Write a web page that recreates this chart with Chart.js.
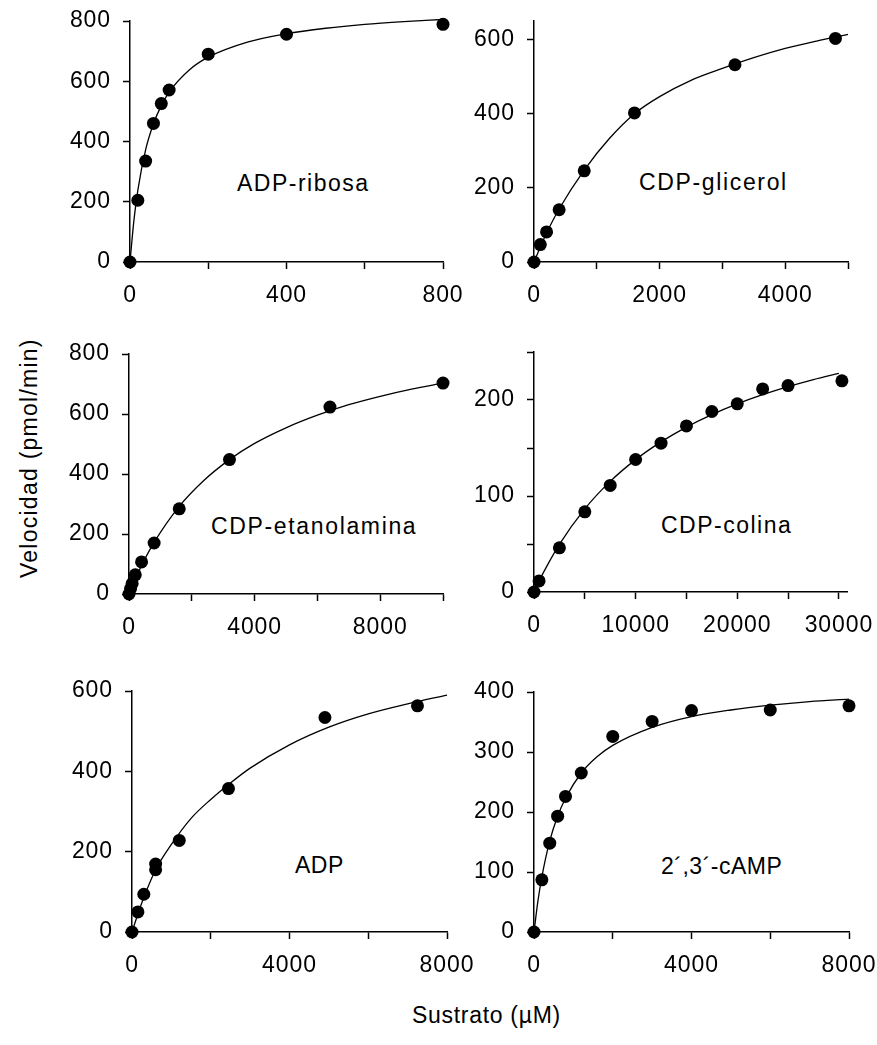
<!DOCTYPE html>
<html lang="es">
<head>
<meta charset="utf-8">
<title>Cinética de hidrólisis de sustratos</title>
<script src="https://cdn.jsdelivr.net/npm/chart.js@4.4.1/dist/chart.umd.min.js"></script>
<style>
  html, body { margin: 0; padding: 0; background: #fff; }
  body {
    width: 877px; height: 1045px; position: relative; overflow: hidden;
    font-family: 'Liberation Sans', Arial, Helvetica, sans-serif; color: #000;
  }
  canvas { position: absolute; }
  .lbl { position: absolute; font-size: 23px; line-height: 23px; white-space: nowrap; }
  .ytitle { transform: rotate(-90deg); transform-origin: 0 0; }
</style>
</head>
<body>
  <div class="lbl" style="left:237px; top:172px; letter-spacing:1.5px">ADP-ribosa</div>
  <div class="lbl" style="left:639px; top:171px; letter-spacing:1.65px">CDP-glicerol</div>
  <div class="lbl" style="left:211px; top:515px; letter-spacing:1.65px">CDP-etanolamina</div>
  <div class="lbl" style="left:661px; top:514px; letter-spacing:1.5px">CDP-colina</div>
  <div class="lbl" style="left:295px; top:854px; letter-spacing:0.5px">ADP</div>
  <div class="lbl" style="left:661px; top:855px; letter-spacing:0.5px">2´,3´-cAMP</div>
  <div class="lbl" style="left:412px; top:1004px; letter-spacing:0.7px">Sustrato (µM)</div>
  <div class="lbl ytitle" style="left:18px; top:578px; letter-spacing:1.25px">Velocidad (pmol/min)</div>

  <canvas id="c1"></canvas>
  <canvas id="c2"></canvas>
  <canvas id="c3"></canvas>
  <canvas id="c4"></canvas>
  <canvas id="c5"></canvas>
  <canvas id="c6"></canvas>

<script>
// ---- Measured velocities (pmol/min) against substrate concentration (µM) ----

// ADP-ribosa
const adpRibosaS = [0, 20, 40, 60, 80, 100, 200, 400, 800];
const adpRibosaV = [0, 205, 335, 460, 526, 571, 690, 756, 789];
const adpRibosaFitS = [0, 10, 20, 40, 60, 80, 100, 150, 200, 300, 400, 500, 600, 700, 800];
const adpRibosaFitV = [0, 138, 238, 373, 459, 519, 564, 636, 680, 730, 758, 776, 789, 798, 805];
const adpRibosaXTicks = [0, 400, 800];
const adpRibosaYTicks = [0, 200, 400, 600, 800];

// CDP-glicerol
const cdpGlicerolS = [0, 100, 200, 400, 800, 1600, 3200, 4800];
const cdpGlicerolV = [0, 47, 81, 141, 246, 402, 532, 603];
const cdpGlicerolFitS = [0, 100, 200, 400, 800, 1200, 1600, 2000, 2500, 3000, 3500, 4000, 4500, 5000];
const cdpGlicerolFitV = [0, 40, 78, 143, 248, 333, 400, 446, 490, 522, 551, 576, 596, 614];
const cdpGlicerolXTicks = [0, 2000, 4000];
const cdpGlicerolYTicks = [0, 200, 400, 600];

// CDP-etanolamina
const cdpEtanolaminaS = [0, 50, 100, 200, 400, 800, 1600, 3200, 6400, 10000];
const cdpEtanolaminaV = [0, 18, 35, 64, 107, 170, 284, 448, 623, 703];
const cdpEtanolaminaFitS = [0, 100, 200, 400, 800, 1600, 2400, 3200, 4000, 5000, 6000, 7000, 8000, 9000, 10000];
const cdpEtanolaminaFitV = [0, 26, 50, 95, 172, 292, 380, 448, 502, 554, 596, 631, 659, 683, 703];
const cdpEtanolaminaXTicks = [0, 4000, 8000];
const cdpEtanolaminaYTicks = [0, 200, 400, 600, 800];

// CDP-colina
const cdpColinaS = [0, 500, 2500, 5000, 7500, 10000, 12500, 15000, 17500, 20000, 22500, 25000, 30300];
const cdpColinaV = [0, 11.5, 46, 83.5, 111, 138, 155, 173, 188, 196, 211.5, 215, 220];
const cdpColinaFitS = [0, 500, 1000, 2500, 5000, 7500, 10000, 12500, 15000, 17500, 20000, 22500, 25000, 27500, 30000];
const cdpColinaFitV = [0, 11.3, 21.8, 49.7, 86.6, 115.2, 137.9, 156.4, 171.8, 184.8, 195.9, 205.5, 213.9, 221.3, 227.8];
const cdpColinaXTicks = [0, 10000, 20000, 30000];
const cdpColinaYTicks = [0, 100, 200];

// ADP
const adpS = [0, 150, 300, 600, 600, 1200, 2450, 4900, 7250];
const adpV = [0, 50, 94, 155, 169, 228, 357, 534, 563];
const adpFitS = [0, 150, 300, 600, 1000, 1500, 2000, 2500, 3000, 4000, 5000, 6000, 7000, 8000];
const adpFitV = [0, 45, 86, 155, 218, 283, 330, 371, 408, 466, 510, 543, 568, 590];
const adpXTicks = [0, 4000, 8000];
const adpYTicks = [0, 200, 400, 600];

// 2´,3´-cAMP
const campS = [0, 200, 400, 600, 800, 1200, 2000, 3000, 4000, 6000, 8000];
const campV = [0, 87, 148, 193, 226, 265, 326, 351, 369, 370, 377];
const campFitS = [0, 100, 200, 400, 600, 800, 1200, 1600, 2000, 3000, 4000, 5000, 6000, 7000, 8000];
const campFitV = [0, 52, 92, 152, 193, 223, 265, 292, 311, 341, 359, 370, 378, 384, 388];
const campXTicks = [0, 4000, 8000];
const campYTicks = [0, 100, 200, 300, 400];

// ---- Panel layout ----
const AXIS_W = 80;    // room reserved for the y tick labels
const AXIS_H = 50;    // room reserved for the x tick labels
const PAD_TOP = 16;
const PAD_RIGHT = 32;

Chart.defaults.font.family = "'Liberation Sans', Arial, Helvetica, sans-serif";
Chart.defaults.font.size = 23;
Chart.defaults.color = '#000';

// slightly wider letter spacing for the tick numbers
const tickSpacing = {
  id: 'tickSpacing',
  beforeDraw(chart) { chart.ctx.letterSpacing = '0.9px'; }
};

function toPoints(xs, ys) {
  return xs.map((x, i) => ({ x: x, y: ys[i] }));
}

function axis(isX, max, step, labelled) {
  return {
    type: 'linear',
    position: isX ? 'bottom' : 'left',
    min: 0,
    max: max,
    border: { display: true, color: '#000', width: 1.5 },
    grid: {
      display: true, drawOnChartArea: false, drawTicks: true,
      tickLength: 7, tickWidth: 1.5, tickColor: '#000'
    },
    ticks: {
      autoSkip: false,
      maxRotation: 0,
      minRotation: 0,
      color: '#000',
      padding: isX ? 13 : 12,
      callback: (v) => labelled.includes(v) ? String(v) : ''
    },
    // tick marks every `step` from 0 up to the end of the axis
    afterBuildTicks: (scale) => {
      const marks = [];
      for (let v = 0; v <= max; v += step) marks.push({ value: v });
      scale.ticks = marks;
    },
    afterFit: (scale) => {
      if (isX) scale.height = AXIS_H; else scale.width = AXIS_W;
      scale.paddingTop = 0; scale.paddingBottom = 0;
      scale.paddingLeft = 0; scale.paddingRight = 0;
    }
  };
}

function makePanel(id, box, p) {
  const canvas = document.getElementById(id);
  const w = AXIS_W + box.w + PAD_RIGHT;
  const h = PAD_TOP + box.h + AXIS_H;
  canvas.width = w; canvas.height = h;
  canvas.style.width = w + 'px'; canvas.style.height = h + 'px';
  canvas.style.left = (box.x - AXIS_W) + 'px';
  canvas.style.top = (box.y - PAD_TOP) + 'px';

  return new Chart(canvas, {
    type: 'scatter',
    data: {
      datasets: [
        {
          data: toPoints(p.s, p.v),
          pointRadius: 6.5,
          pointBackgroundColor: '#000',
          pointBorderColor: '#000',
          pointBorderWidth: 0,
          showLine: false,
          order: 0,
          clip: false
        },
        {
          type: 'line',
          data: toPoints(p.fitS, p.fitV),
          borderColor: '#000',
          borderWidth: 1.3,
          pointRadius: 0,
          fill: false,
          cubicInterpolationMode: 'monotone',
          order: 1,
          clip: false
        }
      ]
    },
    options: {
      responsive: false,
      animation: false,
      devicePixelRatio: 1,
      events: [],
      layout: { padding: { left: 0, top: PAD_TOP, right: PAD_RIGHT, bottom: 0 } },
      plugins: { legend: { display: false }, tooltip: { enabled: false } },
      scales: {
        x: axis(true, p.xMax, p.xStep, p.xTicks),
        y: axis(false, p.yMax, p.yStep, p.yTicks)
      }
    },
    plugins: [tickSpacing]
  });
}

makePanel('c1', { x: 130, y: 21, w: 313, h: 241 }, {
  s: adpRibosaS, v: adpRibosaV, fitS: adpRibosaFitS, fitV: adpRibosaFitV,
  xMax: 800, xStep: 200, xTicks: adpRibosaXTicks,
  yMax: 800, yStep: 200, yTicks: adpRibosaYTicks
});
makePanel('c2', { x: 534, y: 21, w: 314, h: 241 }, {
  s: cdpGlicerolS, v: cdpGlicerolV, fitS: cdpGlicerolFitS, fitV: cdpGlicerolFitV,
  xMax: 5000, xStep: 1000, xTicks: cdpGlicerolXTicks,
  yMax: 650, yStep: 200, yTicks: cdpGlicerolYTicks
});
makePanel('c3', { x: 129, y: 354, w: 314, h: 240 }, {
  s: cdpEtanolaminaS, v: cdpEtanolaminaV, fitS: cdpEtanolaminaFitS, fitV: cdpEtanolaminaFitV,
  xMax: 10000, xStep: 2000, xTicks: cdpEtanolaminaXTicks,
  yMax: 800, yStep: 200, yTicks: cdpEtanolaminaYTicks
});
makePanel('c4', { x: 534, y: 352, w: 313, h: 240 }, {
  s: cdpColinaS, v: cdpColinaV, fitS: cdpColinaFitS, fitV: cdpColinaFitV,
  xMax: 30800, xStep: 5000, xTicks: cdpColinaXTicks,
  yMax: 250, yStep: 50, yTicks: cdpColinaYTicks
});
makePanel('c5', { x: 132, y: 691, w: 315, h: 241 }, {
  s: adpS, v: adpV, fitS: adpFitS, fitV: adpFitV,
  xMax: 8000, xStep: 2000, xTicks: adpXTicks,
  yMax: 600, yStep: 200, yTicks: adpYTicks
});
makePanel('c6', { x: 534, y: 692, w: 315, h: 240 }, {
  s: campS, v: campV, fitS: campFitS, fitV: campFitV,
  xMax: 8000, xStep: 2000, xTicks: campXTicks,
  yMax: 400, yStep: 100, yTicks: campYTicks
});
</script>
</body>
</html>
